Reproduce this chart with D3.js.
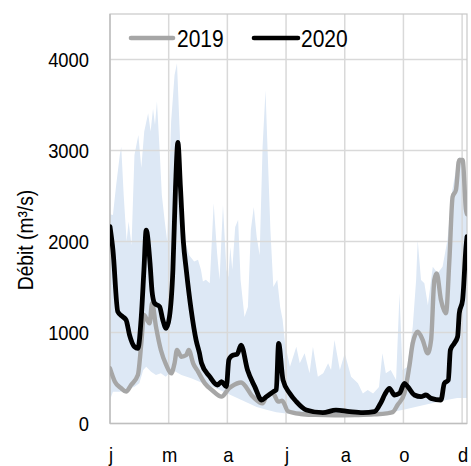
<!DOCTYPE html>
<html><head><meta charset="utf-8">
<script src="https://cdn.jsdelivr.net/npm/d3@7"></script>
<style>html,body{margin:0;padding:0;background:#fff;}svg{display:block;}</style>
</head><body>
<svg id="chart" width="471" height="466"></svg>
<script>
// ---- Data (day of year, débit m3/s) ----
const monthLabels = ["j","m","a","j","a","o","d"];
const tickDays = [0,60,120,180,240,300,360];
const yTicks = [0,1000,2000,3000,4000];
const seriesNames = ["2019","2020"];

const bandUpperDays = [0,3,6,10,11.5,14,17,19,22,25,29,32,35,39,41.5,44,46,48,51,53,56,58.5,62.5,66,68.5,71,74.5,78,81,86,90,93,95,98,102,106,109.5,112,115.5,119,121,123,125,128,131,133.5,137.5,141,144,147,150,153,156,159,161,164,167,171,174,176.5,179,184,190.5,194,199,204,207.5,212.5,218,223,226,229.5,235,240,246.5,253.5,258.5,263.5,269,275,278.5,282,287,292.5,296,299,304,309.5,313,314.6,318,321.4,325,330,335,340,345,350,355.5,358,362,365];
const bandUpper = [2300,2290,2590,2950,3040,2510,2000,2220,1960,2950,3170,2810,3210,3410,3210,3460,3280,3540,2950,2510,2220,2000,3320,3830,3960,3280,2400,1960,1850,1780,1800,1690,1560,1580,1540,2420,1870,1580,2400,1690,1610,1940,1690,2160,2240,1580,1170,1280,2130,2380,2050,1850,3040,3660,3040,2130,1500,1580,1280,1140,880,624,844,661,771,551,844,515,551,661,588,917,588,771,515,441,331,368,331,400,771,551,588,478,1430,588,620,1060,1580,2016,1577,1540,1300,1723,1650,1723,2016,2566,2896,2930,2530,2300];

const bandLowerDays = [0,3,10,17,25,30,34,37,42,47,52,57,64,73,83,91.5,100,110,120,130,140,150,160,170,180,200,230,260,280,300,320,340,355,365];
const bandLower = [258,350,350,368,405,441,588,624,570,533,551,515,588,533,496,460,420,380,330,280,230,180,150,125,110,95,90,95,110,150,200,250,280,280];

const days2019 = [0,5,11.5,16.5,21.5,28.5,32,34.7,38,40.5,43,47,52,57.5,62.5,66,68.5,73,78,80.5,85,90,97,105,114,122,124,134,146,156,160,166.5,172,176,182,195,210,230,250,270,283,289,294,301,306,309.5,314.6,319.7,324.8,328.3,331.6,334,338.4,343.5,347,350.3,353.7,357,360.5,364,365];
const flow2019 = [606,460,387,350,423,533,881,1192,1137,1100,1321,1064,808,643,551,661,808,734,753,808,661,570,441,360,295,390,405,450,295,222,300,332,240,250,135,105,95,90,93,100,112,125,203,332,624,881,1009,918,771,918,1577,1650,1357,1211,1797,2492,2566,2896,2896,2346,2300];

const days2020 = [0,3,8,13,16.5,20,25,28.5,32,34.7,37,41,43,45.6,50.7,54,57.4,60.8,64.3,67,69.4,72,75,78,83,88,91.5,93.5,102,110,114,119,121.5,124,126.5,130,134,140.6,148,155,160,167,170,172.4,176.9,183.7,190.5,200.7,217.6,231,245,258.6,270.4,277,281,285.7,290.8,296,301,304.4,311.2,318,323,328.3,338.4,341.8,345.9,348,352,355.4,357.1,360.5,364,365];
const flow2020 = [2163,1906,1228,1173,1137,972,844,826,1173,1687,2126,1750,1450,1321,1284,1137,1046,1173,1687,2600,3090,2600,2000,1687,1247,918,771,665,515,423,460,405,700,740,753,760,862,588,405,258,295,350,370,881,478,332,240,148,119,148,130,119,130,230,320,387,313,332,441,405,313,295,313,276,258,441,478,808,881,954,1211,1357,1943,2053];

// ---- Layout ----
const svg = d3.select("#chart");
const L = 110, R = 467, T = 14, B = 423.5;
const x = d3.scaleLinear().domain([0,365]).range([L,R]);
const y = d3.scaleLinear().domain([0,4500]).range([B,T]);
const FONT = "'Liberation Sans', Arial, sans-serif";
const SX = 0.875;

svg.append("defs").append("clipPath").attr("id","clip")
  .append("rect").attr("x",L).attr("y",T).attr("width",R-L).attr("height",B-T);

// band
const upperPts = bandUpperDays.map((d,i)=>[d,bandUpper[i]]);
const lowerPts = bandLowerDays.map((d,i)=>[d,bandLower[i]]).reverse();
const lineGen = d3.line().x(d=>x(d[0])).y(d=>y(d[1]));
svg.append("path").attr("clip-path","url(#clip)")
  .attr("d", lineGen(upperPts.concat(lowerPts)) + "Z")
  .attr("fill","#dde8f5").attr("stroke","none");

// gridlines
const grid = svg.append("g");
grid.selectAll("line.h").data(yTicks.filter(v=>v>0)).join("line")
  .attr("x1",L).attr("x2",R).attr("y1",d=>y(d)).attr("y2",d=>y(d))
  .attr("stroke","#d9d9d9").attr("stroke-width",1.5);
grid.selectAll("line.v").data(tickDays.filter(v=>v>0)).join("line")
  .attr("y1",T).attr("y2",B).attr("x1",d=>x(d)).attr("x2",d=>x(d))
  .attr("stroke","#d9d9d9").attr("stroke-width",1.5);

// frame
svg.append("rect").attr("x",L).attr("y",T).attr("width",R-L).attr("height",B-T)
  .attr("fill","none").attr("stroke","#c8c8c8").attr("stroke-width",1.2);
svg.append("line").attr("x1",L).attr("x2",L).attr("y1",T).attr("y2",B)
  .attr("stroke","#bfbfbf").attr("stroke-width",1.5);
svg.append("line").attr("x1",L).attr("x2",R).attr("y1",B).attr("y2",B)
  .attr("stroke","#bfbfbf").attr("stroke-width",1.5);

// series lines
const curveLine = d3.line().x(d=>x(d[0])).y(d=>y(d[1])).curve(d3.curveMonotoneX);
const plot = svg.append("g").attr("clip-path","url(#clip)");
plot.append("path").datum(days2019.map((d,i)=>[d,flow2019[i]]))
  .attr("d",curveLine).attr("fill","none").attr("stroke","#a6a6a6")
  .attr("stroke-width",4.4).attr("stroke-linejoin","round").attr("stroke-linecap","round");
plot.append("path").datum(days2020.map((d,i)=>[d,flow2020[i]]))
  .attr("d",curveLine).attr("fill","none").attr("stroke","#000")
  .attr("stroke-width",4.8).attr("stroke-linejoin","round").attr("stroke-linecap","round");

// text helper (horizontally condensed)
function label(px,py,txt,size,anchor,rot){
  const g = svg.append("g").attr("transform",`translate(${px},${py})`+(rot?` rotate(${rot})`:"")+` scale(${SX},1)`);
  return g.append("text").attr("x",0).attr("y",0).attr("text-anchor",anchor)
    .attr("font-family",FONT).attr("font-size",size).attr("fill","#000").text(txt);
}

// y ticks
yTicks.forEach(v=>{ label(89, y(v)+7.5, d3.format("d")(v), 21, "end"); });
// x ticks
tickDays.forEach((d,i)=>{ label(x(d)+1, 462, monthLabels[i], 21, "middle"); });
// y title
label(33, 240, "Débit (m³/s)", 22, "middle", -90);

// legend
const legend = [{name:seriesNames[0],color:"#a6a6a6",x1:131,x2:173,tx:177},
                {name:seriesNames[1],color:"#000",x1:254,x2:298,tx:301}];
legend.forEach(l=>{
  svg.append("line").attr("x1",l.x1).attr("x2",l.x2).attr("y1",38).attr("y2",38)
    .attr("stroke",l.color).attr("stroke-width",4.6).attr("stroke-linecap","round");
  label(l.tx, 46.5, l.name, 24, "start");
});
</script>
</body></html>
